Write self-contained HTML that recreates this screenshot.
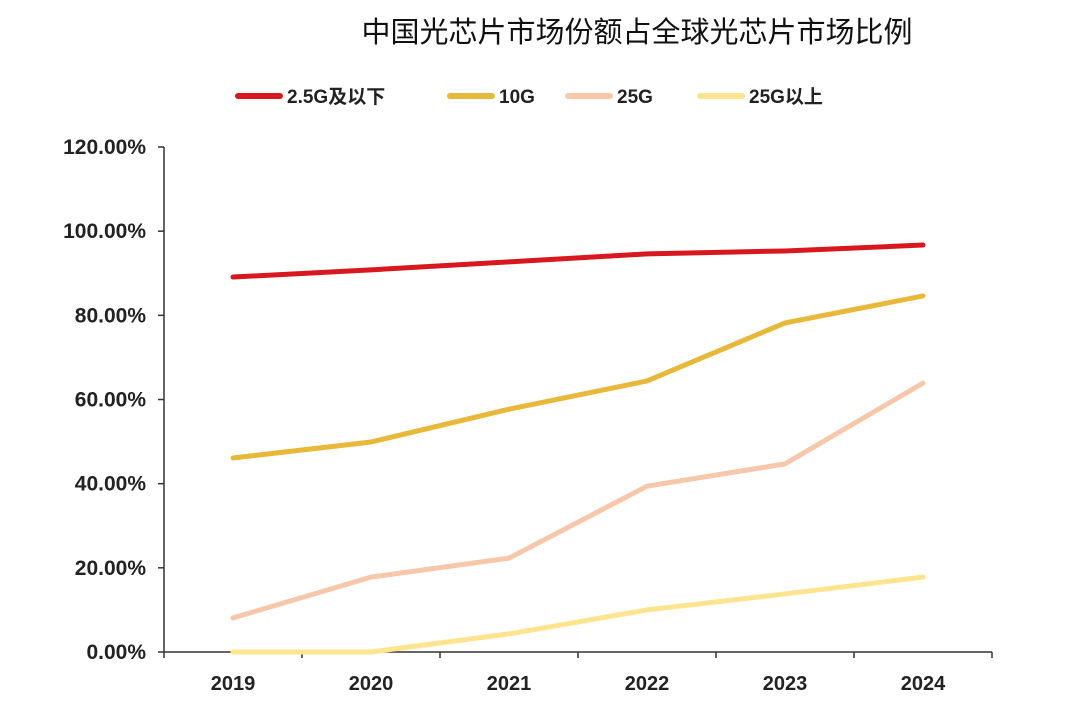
<!DOCTYPE html>
<html><head><meta charset="utf-8"><style>
body{margin:0;background:#fff;width:1080px;height:697px;overflow:hidden}
text{font-family:"Liberation Sans","Noto Sans CJK SC",sans-serif}
</style></head><body>
<svg id="chart" width="1080" height="697">
<text x="637" y="42" text-anchor="middle" font-size="29" fill="#111" font-family="'Liberation Serif','Noto Serif CJK SC',serif">中国光芯片市场份额占全球光芯片市场比例</text>
<g id="legend"></g>
<g id="axes"></g>
<g id="series"></g>
</svg>
<script>
const categories=["2019","2020","2021","2022","2023","2024"];
const seriesNames=["2.5G及以下","10G","25G","25G以上"];
const s1=[89.1,90.8,92.7,94.6,95.3,96.7];
const s2=[46.1,49.9,57.7,64.4,78.2,84.6];
const s3=[8.1,17.8,22.3,39.4,44.7,63.9];
const s4=[0,0,4.3,10,13.8,17.8];
const yTicks=[0,20,40,60,80,100,120];
const yTickLabels=["0.00%","20.00%","40.00%","60.00%","80.00%","100.00%","120.00%"];
const colors=["#d7191f","#e8b83a","#f6c7ab","#fde48f"];
const NS="http://www.w3.org/2000/svg";
const x0=233,dx=138,yb=652,yt=147;
const X=i=>x0+i*dx;
const Y=v=>yb-(v/120)*(yb-yt);
function mk(tag,attrs,parent){const e=document.createElementNS(NS,tag);for(const k in attrs)e.setAttribute(k,attrs[k]);parent.appendChild(e);return e;}
const axes=document.getElementById('axes');
let a=mk('line',{x1:164,y1:Y(120),x2:164,y2:yb,stroke:'#333','stroke-width':1.5},axes);


a=mk('line',{x1:164,y1:yb,x2:992,y2:yb,stroke:'#333','stroke-width':1.5},axes);


yTicks.forEach((v,i)=>{
 const t=mk('line',{x1:158,y1:Y(v),x2:164,y2:Y(v),stroke:'#333','stroke-width':1.5},axes);
 
 
 const l=mk('text',{x:146,y:Y(v)+7,'text-anchor':'end','font-size':21,'font-weight':'bold',fill:'#222','font-family':"'Liberation Mono',monospace"},axes);
 l.textContent=yTickLabels[i];
 
 
});
for(let i=0;i<=categories.length;i++){
 const t=mk('line',{x1:164+i*138,y1:yb,x2:164+i*138,y2:yb+6,stroke:'#333','stroke-width':1.5},axes);
 
 
}
categories.forEach((c,i)=>{
 const l=mk('text',{x:X(i),y:690,'text-anchor':'middle','font-size':20,'font-weight':'bold',fill:'#222'},axes);
 l.textContent=c;
 
 
});
const ser=document.getElementById('series');
[s1,s2,s3,s4].forEach((d,k)=>{
 const p=mk('polyline',{points:d.map((v,i)=>X(i)+','+Y(v)).join(' '),fill:'none',stroke:colors[k],'stroke-width':5,'stroke-linejoin':'round','stroke-linecap':'round'},ser);
 
 
});
const leg=document.getElementById('legend');
const lx=[238,450,568,700];
seriesNames.forEach((n,k)=>{
 const l=mk('line',{x1:lx[k],y1:96,x2:lx[k]+42,y2:96,stroke:colors[k],'stroke-width':6,'stroke-linecap':'round'},leg);
 
 
 const t=mk('text',{x:lx[k]+49,y:103,'font-size':19,'font-weight':'bold',fill:'#222'},leg);
 t.textContent=n;
 
 
});
</script>
</body></html>
